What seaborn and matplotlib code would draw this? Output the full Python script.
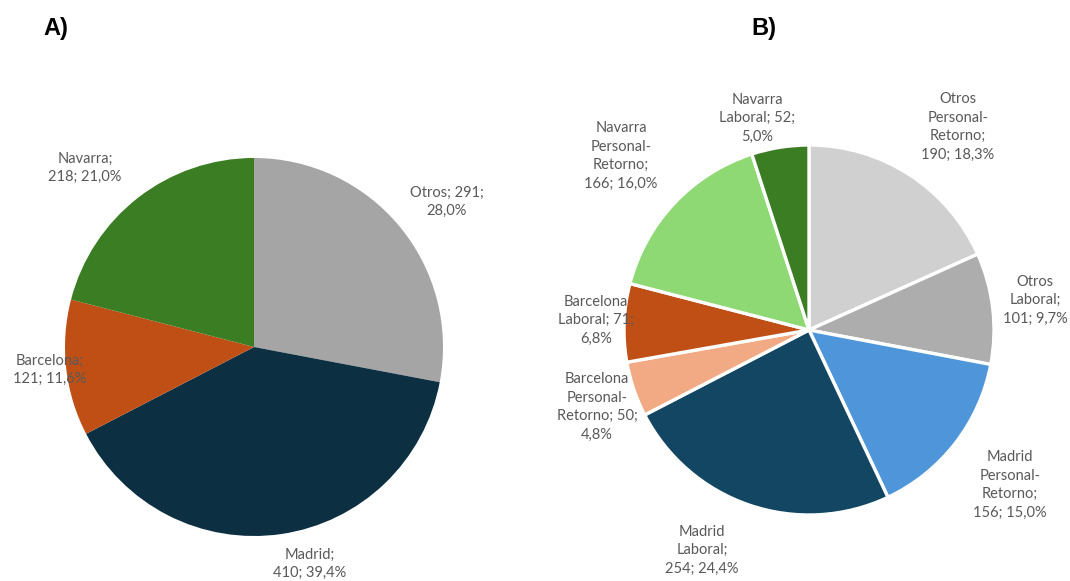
import seaborn as sns
import matplotlib.pyplot as plt

# data
city_names = ["Otros", "Madrid", "Barcelona", "Navarra"]
city_counts = [291, 410, 121, 218]
city_colors = ["#A5A5A5", "#0C2F42", "#C04F15", "#3B7D23"]

motive_names = [
  "Otros Personal-Retorno", "Otros Laboral",
  "Madrid Personal-Retorno", "Madrid Laboral",
  "Barcelona Personal-Retorno", "Barcelona Laboral",
  "Navarra Personal-Retorno", "Navarra Laboral",
]
motive_counts = [190, 101, 156, 254, 50, 71, 166, 52]
motive_colors = [
  "#D0D0D0", "#ADADAD", "#4E95D9", "#124662",
  "#F2AA84", "#C04F15", "#8ED973", "#3B7D23",
]

# how Excel wrapped each label
city_label_fmt = [
  "Otros; {v};\n{p}",
  "Madrid;\n{v}; {p}",
  "Barcelona;\n{v}; {p}",
  "Navarra;\n{v}; {p}",
]
motive_label_fmt = [
  "Otros\nPersonal-\nRetorno;\n{v}; {p}",
  "Otros\nLaboral;\n{v}; {p}",
  "Madrid\nPersonal-\nRetorno;\n{v}; {p}",
  "Madrid\nLaboral;\n{v}; {p}",
  "Barcelona\nPersonal-\nRetorno; {v};\n{p}",
  "Barcelona\nLaboral; {v};\n{p}",
  "Navarra\nPersonal-\nRetorno;\n{v}; {p}",
  "Navarra\nLaboral; {v};\n{p}",
]

# label centres in figure pixels
city_label_px = [(447, 202), (310, 564), (50, 370), (85, 168)]
motive_label_px = [
  (958, 127), (1035, 300), (1010, 485), (702, 550),
  (597, 407), (596, 320), (621, 156), (757, 118),
]

W, H = 1070, 581
sns.set_style("white")
plt.rcParams["font.family"] = ["Lato", "DejaVu Sans"]

fig = plt.figure(figsize=(W / 100, H / 100), dpi=100)


def pie_axes(cx, cy, r):
  ax = fig.add_axes([(cx - r) / W, (H - cy - r) / H, 2 * r / W, 2 * r / H])
  ax.set_axis_off()
  return ax


def fmt_pct(v, total):
  return f"{100 * v / total:.1f}%".replace(".", ",")


def draw_labels(fmts, counts, positions):
  total = sum(counts)
  for f, v, (x, y) in zip(fmts, counts, positions):
    fig.text(
      x / W, 1 - y / H, f.format(v=v, p=fmt_pct(v, total)),
      ha="center", va="center", fontsize=10.5, color="#595959",
      linespacing=1.4,
    )


ax_a = pie_axes(254, 347, 189)
ax_a.pie(
  city_counts, colors=city_colors, startangle=90, counterclock=False,
  radius=1, wedgeprops=dict(linewidth=0),
)
ax_a.set_xlim(-1, 1)
ax_a.set_ylim(-1, 1)
draw_labels(city_label_fmt, city_counts, city_label_px)

ax_b = pie_axes(809, 330, 185)
ax_b.pie(
  motive_counts, colors=motive_colors, startangle=90, counterclock=False,
  radius=1, wedgeprops=dict(edgecolor="white", linewidth=2.4),
)
ax_b.set_xlim(-1, 1)
ax_b.set_ylim(-1, 1)
draw_labels(motive_label_fmt, motive_counts, motive_label_px)

for s, x in [("A)", 56), ("B)", 764)]:
  fig.text(
    x / W, 1 - 29 / H, s, ha="center", va="center", fontsize=17,
    fontweight="bold", color="black", family=["Liberation Sans", "DejaVu Sans"],
  )

fig.savefig("out.png", dpi=100)
